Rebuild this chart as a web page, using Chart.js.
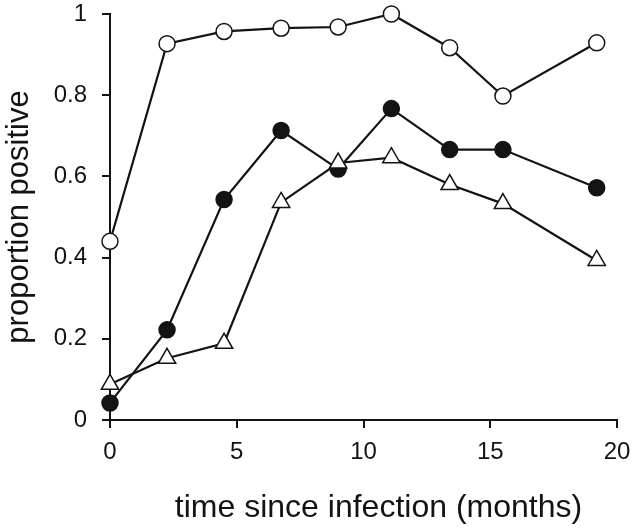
<!DOCTYPE html>
<html>
<head>
<meta charset="utf-8">
<script src="https://cdn.jsdelivr.net/npm/chart.js@4/dist/chart.umd.min.js"></script>
<style>
  html, body { margin: 0; padding: 0; background: #fff; }
  #wrap { width: 635px; height: 529px; position: relative; }
</style>
</head>
<body>
<div id="wrap"><canvas id="c"></canvas></div>
<script>
// months since infection, shared by all three series
const months = [0, 2.25, 4.5, 6.75, 9, 11.1, 13.4, 15.5, 19.2];

// proportion positive per group
const openCircle   = [0.44, 0.927, 0.957, 0.965, 0.968, 1.0, 0.917, 0.798, 0.929];
const filledCircle = [0.042, 0.222, 0.543, 0.713, 0.618, 0.767, 0.666, 0.666, 0.572];
const openTriangle = [0.088, 0.152, 0.189, 0.536, 0.633, 0.646, 0.58, 0.533, 0.393];

const xTicks = [0, 5, 10, 15, 20];
const yTicks = [0, 0.2, 0.4, 0.6, 0.8, 1];

const X_TITLE = 'time since infection (months)';
const Y_TITLE = 'proportion positive';

const FONT = '"Liberation Sans", Arial, sans-serif';
const INK = '#131313';

function pts(ys) {
  return months.map((x, i) => ({ x: x, y: ys[i] }));
}

function series(ys, style, fill, radius) {
  return {
    data: pts(ys),
    showLine: true,
    clip: false,
    borderColor: INK,
    borderWidth: 2.2,
    pointStyle: style,
    pointRadius: radius,
    pointBackgroundColor: fill,
    pointBorderColor: INK,
    pointBorderWidth: 1.5,
  };
}

// x title sits a bit right of the plot centre in the original, so draw it here
const xTitlePlugin = {
  id: 'xTitle',
  afterDraw(chart) {
    const ctx = chart.ctx;
    const a = chart.chartArea;
    ctx.save();
    ctx.font = '32px ' + FONT;
    ctx.fillStyle = INK;
    ctx.textAlign = 'center';
    ctx.textBaseline = 'alphabetic';
    ctx.fillText(X_TITLE, (a.left + a.right) / 2 + 15, 517);
    ctx.restore();
  },
};

new Chart(document.getElementById('c').getContext('2d'), {
  type: 'scatter',
  data: {
    datasets: [
      series(openTriangle, 'triangle', '#fff', 10),
      series(filledCircle, 'circle', INK, 8),
      series(openCircle, 'circle', '#fff', 8),
    ],
  },
  options: {
    responsive: true,
    maintainAspectRatio: false,
    animation: false,
    layout: { padding: { top: 14, right: 18, left: 0, bottom: 0 } },
    plugins: { legend: { display: false }, tooltip: { enabled: false } },
    scales: {
      x: {
        type: 'linear',
        min: 0, max: 20,
        afterBuildTicks: (ax) => { ax.ticks = xTicks.map(v => ({ value: v })); },
        afterFit: (ax) => {
          ax.height = 109;
          ax.paddingLeft = 0; ax.paddingRight = 0;
        },
        grid: { display: true, drawOnChartArea: false, tickLength: 8, color: INK, lineWidth: 2 },
        border: { display: true, color: INK, width: 2 },
        ticks: { color: INK, font: { family: FONT, size: 24 }, padding: 10 },
        title: { display: false },
      },
      y: {
        type: 'linear',
        min: 0, max: 1,
        afterBuildTicks: (ax) => { ax.ticks = yTicks.map(v => ({ value: v })); },
        afterFit: (ax) => {
          ax.width = 110;
          ax.paddingTop = 0; ax.paddingBottom = 0;
        },
        grid: { display: true, drawOnChartArea: false, tickLength: 8, color: INK, lineWidth: 2 },
        border: { display: true, color: INK, width: 2 },
        ticks: { color: INK, font: { family: FONT, size: 24 }, padding: 15,
                 callback: (v) => String(v) },
        title: { display: true, text: Y_TITLE, color: INK,
                 font: { family: FONT, size: 31 }, padding: { top: 1, bottom: 0 } },
      },
    },
  },
  plugins: [xTitlePlugin],
});
</script>
</body>
</html>
